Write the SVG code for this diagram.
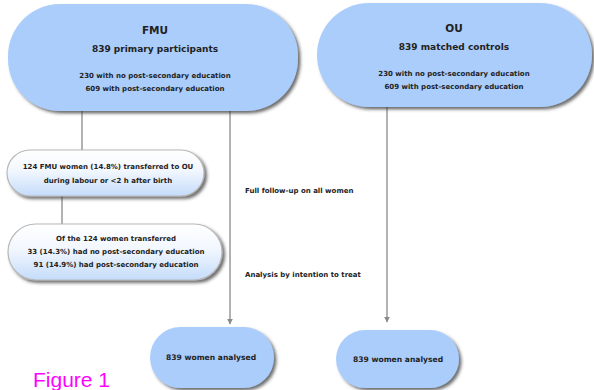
<svg xmlns="http://www.w3.org/2000/svg" width="594" height="390" viewBox="0 0 594 390">
<defs>
<filter id="sh" x="-10%" y="-10%" width="125%" height="130%">
<feDropShadow dx="2.5" dy="2.5" stdDeviation="1.6" flood-color="#333" flood-opacity="0.7"/>
</filter>
<linearGradient id="gr" x1="0" y1="0" x2="0" y2="1">
<stop offset="0" stop-color="#ffffff"/>
<stop offset="0.45" stop-color="#f2f7fe"/>
<stop offset="1" stop-color="#c4dcfa"/>
</linearGradient>
<marker id="ah" viewBox="0 0 10 10" refX="9" refY="5" markerWidth="6" markerHeight="6" markerUnits="userSpaceOnUse" orient="auto">
<path d="M0,0 L10,5 L0,10 z" fill="#8a8a8a"/>
</marker>
<style>
text{font-family:"DejaVu Sans","Verdana",sans-serif;fill:#222;font-weight:bold;text-anchor:middle}
.big{fill:#aacdfc;filter:url(#sh)}
.sm{fill:url(#gr);stroke:#b8b8b8;stroke-width:1.2;filter:url(#sh)}
.t1{font-size:10.5px}
.t2{font-size:9px}
.t3{font-size:7px}
.t4{font-size:7.6px}
.lab{text-anchor:start;font-size:7px}
.ln{stroke:#999;stroke-width:1.5;fill:none}
.fig{font-family:"Liberation Sans",Arial,sans-serif;font-weight:normal;fill:#ff00ff;text-anchor:start;font-size:21px}
</style>
</defs>
<rect width="594" height="390" fill="#ffffff"/>
<g id="connectors">
<line class="ln" x1="82" y1="110" x2="82" y2="150"/>
<line class="ln" x1="62" y1="196" x2="62" y2="224"/>
<line class="ln" x1="230" y1="110" x2="230" y2="324" marker-end="url(#ah)"/>
<line class="ln" x1="387" y1="106" x2="387" y2="322" marker-end="url(#ah)"/>
</g>
<g id="fmu">
<rect class="big" x="8" y="4" width="290" height="107" rx="52" ry="52"/>
<text class="t1" x="155" y="34">FMU</text>
<text class="t2" x="155" y="52">839 primary participants</text>
<text class="t3" x="155" y="78">230 with no post-secondary education</text>
<text class="t3" x="155" y="91">609 with post-secondary education</text>
</g>
<g id="ou">
<rect class="big" x="317" y="3" width="275" height="104" rx="52" ry="52"/>
<text class="t1" x="454" y="32">OU</text>
<text class="t2" x="454" y="50">839 matched controls</text>
<text class="t3" x="454" y="76">230 with no post-secondary education</text>
<text class="t3" x="454" y="89">609 with post-secondary education</text>
</g>
<g id="transfer">
<rect class="sm" x="7" y="150" width="197" height="46" rx="23" ry="23"/>
<text class="t3" x="108" y="169">124 FMU women (14.8%) transferred to OU</text>
<text class="t3" x="108" y="183">during labour or &lt;2 h after birth</text>
</g>
<g id="transfer-edu">
<rect class="sm" x="8" y="224" width="214" height="56" rx="28" ry="28"/>
<text class="t3" x="116" y="241">Of the 124 women transferred</text>
<text class="t3" x="116" y="254">33 (14.3%) had no post-secondary education</text>
<text class="t3" x="116" y="267">91 (14.9%) had post-secondary education</text>
</g>
<g id="labels">
<text class="lab" x="245" y="193">Full follow-up on all women</text>
<text class="lab" x="245" y="277">Analysis by intention to treat</text>
</g>
<g id="fmu-analysed">
<rect class="big" x="150" y="327" width="124" height="61" rx="30.5" ry="30.5"/>
<text class="t4" x="211" y="360">839 women analysed</text>
</g>
<g id="ou-analysed">
<rect class="big" x="336" y="330" width="123" height="58" rx="29" ry="29"/>
<text class="t4" x="398" y="362">839 women analysed</text>
</g>
<text class="fig" x="33" y="387">Figure 1</text>
</svg>
